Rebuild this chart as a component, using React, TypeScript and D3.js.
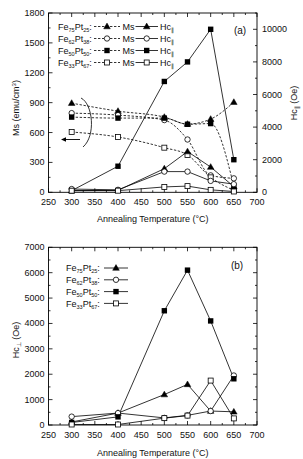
import React from 'react';
import * as d3 from 'd3';

const temperatures = [300, 400, 500, 550, 600, 650];
const xTickValues = [250, 300, 350, 400, 450, 500, 550, 600, 650, 700];
const msTicks = [0, 300, 600, 900, 1200, 1500, 1800];
const hcParTicks = [0, 2000, 4000, 6000, 8000, 10000];
const hcPerpTicks = [0, 1000, 2000, 3000, 4000, 5000, 6000, 7000];

const compositions = [
  ['75', '25'],
  ['62', '38'],
  ['50', '50'],
  ['33', '67'],
];
const markerTypes = ['tri', 'circle', 'square', 'osquare'];

// Ms (emu/cm3), dashed
const msFe75 = [895, 815, 755, 685, 735, 905];
const msFe62 = [795, 775, 725, 530, 170, 140];
const msFe50 = [755, 745, 745, 683, 690, 60];
const msFe33 = [605, 555, 448, 375, 150, 20];

// Hc parallel (Oe), solid
const hcParFe75 = [100, 120, 1450, 2500, 1550, 350];
const hcParFe62 = [200, 150, 1270, 1270, 700, 500];
const hcParFe50 = [100, 1600, 6800, 8000, 10000, 2000];
const hcParFe33 = [100, 100, 330, 380, 150, 50];

// Hc perpendicular (Oe), solid
const hcPerpFe75 = [120, 470, 1200, 1600, 550, 520];
const hcPerpFe62 = [330, 470, 280, 380, 550, 1950];
const hcPerpFe50 = [100, 320, 4500, 6100, 4100, 1820];
const hcPerpFe33 = [20, 20, 270, 370, 1750, 260];

const msSeries = [msFe75, msFe62, msFe50, msFe33];
const hcParSeries = [hcParFe75, hcParFe62, hcParFe50, hcParFe33];
const hcPerpSeries = [hcPerpFe75, hcPerpFe62, hcPerpFe50, hcPerpFe33];

const FONT = "'Liberation Sans', Arial, Helvetica, sans-serif";

function Marker({ type, x, y }: { type: string; x: number; y: number }) {
  const sw = 0.8;
  if (type === 'tri') {
    return (
      <polygon
        points={`${x},${y - 3.4} ${x - 3.3},${y + 2.3} ${x + 3.3},${y + 2.3}`}
        fill="#000"
        stroke="#000"
        strokeWidth={0.5}
      />
    );
  }
  if (type === 'circle') {
    return <circle cx={x} cy={y} r={2.7} fill="#fff" stroke="#000" strokeWidth={sw} />;
  }
  if (type === 'square') {
    return <rect x={x - 2.7} y={y - 2.7} width={5.4} height={5.4} fill="#000" />;
  }
  return <rect x={x - 2.5} y={y - 2.5} width={5} height={5} fill="#fff" stroke="#000" strokeWidth={sw} />;
}

function FeLabel({ x, y, comp }: { x: number; y: number; comp: string[] }) {
  return (
    <text x={x} y={y} fontSize={9} fontFamily={FONT} fill="#111">
      Fe
      <tspan dy={2} fontSize={5.5}>{comp[0]}</tspan>
      <tspan dy={-2}>Pt</tspan>
      <tspan dy={2} fontSize={5.5}>{comp[1]}</tspan>
      <tspan dy={-2}>:</tspan>
    </text>
  );
}

const x = d3.scaleLinear().domain([250, 700]).range([48.5, 257]);
const yMs = d3.scaleLinear().domain([0, 1800]).range([192.3, 13]);
const yHcPar = d3.scaleLinear().domain([0, 11000]).range([192.3, 13]);
const yHcPerp = d3.scaleLinear().domain([0, 7000]).range([425, 247.3]);

function XAxis({ yBottom, yTop }: { yBottom: number; yTop: number }) {
  const minor = d3.range(250, 701, 25);
  return (
    <g>
      {minor.map((v) => {
        const major = v % 50 === 0;
        const len = major ? 4 : 2;
        return (
          <g key={v}>
            <line x1={x(v)} x2={x(v)} y1={yBottom} y2={yBottom - len} stroke="#000" strokeWidth={0.8} />
            <line x1={x(v)} x2={x(v)} y1={yTop} y2={yTop + len} stroke="#000" strokeWidth={0.8} />
          </g>
        );
      })}
      {xTickValues.map((v) => (
        <text key={v} x={x(v)} y={yBottom + 12.5} fontSize={9} fontFamily={FONT} textAnchor="middle" fill="#111">
          {v}
        </text>
      ))}
    </g>
  );
}

function YTicks({ scale, majors, step, side, labels }: any) {
  const [d0, d1] = scale.domain();
  const minor = d3.range(d0, d1 + 0.001, step / 2);
  const x0 = side === 'left' ? x.range()[0] : x.range()[1];
  const dir = side === 'left' ? 1 : -1;
  return (
    <g>
      {minor.map((v: number) => {
        const major = Math.abs(v / step - Math.round(v / step)) < 1e-6;
        const len = major ? 4 : 2;
        return (
          <line key={v} x1={x0} x2={x0 + dir * len} y1={scale(v)} y2={scale(v)} stroke="#000" strokeWidth={0.8} />
        );
      })}
      {labels &&
        majors.map((v: number) => (
          <text
            key={v}
            x={side === 'left' ? x0 - 4 : x0 + 5}
            y={scale(v) + 3}
            fontSize={9}
            fontFamily={FONT}
            textAnchor={side === 'left' ? 'end' : 'start'}
            fill="#111"
          >
            {v}
          </text>
        ))}
    </g>
  );
}

export default function App() {
  const lineSolid = (ys: number[], scale: any) =>
    d3.line<number>().x((_, i) => x(temperatures[i])).y((v) => scale(v))(ys) as string;
  const lineDashed = (ys: number[], scale: any) =>
    d3
      .line<number>()
      .x((_, i) => x(temperatures[i]))
      .y((v) => scale(v))
      .curve(d3.curveMonotoneX)(ys) as string;

  const [xl, xr] = x.range();

  return (
    <svg
      width={303}
      height={459}
      viewBox="0 0 303 459"
      style={{ position: 'absolute', left: 0, top: 0, background: '#fff' }}
    >
      <rect x={0} y={0} width={303} height={459} fill="#fff" />

      {/* ===== Panel (a) ===== */}
      <rect x={xl} y={13} width={xr - xl} height={192.3 - 13} fill="none" stroke="#000" strokeWidth={0.9} />
      <XAxis yBottom={192.3} yTop={13} />
      <YTicks scale={yMs} majors={msTicks} step={300} side="left" labels />
      <YTicks scale={yHcPar} majors={hcParTicks} step={2000} side="right" labels />

      {msSeries.map((s, i) => (
        <path key={'ms' + i} d={lineDashed(s, yMs)} fill="none" stroke="#000" strokeWidth={0.8} strokeDasharray="2.4,1.6" />
      ))}
      {hcParSeries.map((s, i) => (
        <path key={'hp' + i} d={lineSolid(s, yHcPar)} fill="none" stroke="#000" strokeWidth={0.8} />
      ))}
      {msSeries.map((s, i) =>
        s.map((v, j) => <Marker key={`msm${i}-${j}`} type={markerTypes[i]} x={x(temperatures[j])} y={yMs(v)} />)
      )}
      {hcParSeries.map((s, i) =>
        s.map((v, j) => <Marker key={`hpm${i}-${j}`} type={markerTypes[i]} x={x(temperatures[j])} y={yHcPar(v)} />)
      )}

      {/* bracket and arrow */}
      <path d="M 81 98 C 93 104, 96 136, 83 147" fill="none" stroke="#000" strokeWidth={0.8} />
      <line x1={80} y1={139.5} x2={64} y2={139.5} stroke="#000" strokeWidth={0.9} />
      <polygon points="61,139.5 66,137.3 66,141.7" fill="#000" />

      {/* legend (a) */}
      {compositions.map((c, i) => {
        const cy = 26.5 + i * 12;
        return (
          <g key={'la' + i}>
            <FeLabel x={58} y={cy + 3.2} comp={c} />
            <line x1={94} x2={120} y1={cy} y2={cy} stroke="#000" strokeWidth={0.8} strokeDasharray="2.4,1.6" />
            <Marker type={markerTypes[i]} x={107} y={cy} />
            <text x={122.5} y={cy + 3.2} fontSize={9} fontFamily={FONT} fill="#111">
              Ms
            </text>
            <line x1={135.5} x2={158} y1={cy} y2={cy} stroke="#000" strokeWidth={0.8} />
            <Marker type={markerTypes[i]} x={146.7} y={cy} />
            <text x={160} y={cy + 3.2} fontSize={9} fontFamily={FONT} fill="#111">
              Hc<tspan dy={2} fontSize={5.5}>∥</tspan>
            </text>
          </g>
        );
      })}
      <text x={240} y={33.5} fontSize={10} fontFamily={FONT} textAnchor="middle" fill="#111">
        (a)
      </text>

      <text transform="translate(18.5,108) rotate(-90)" fontSize={9} fontFamily={FONT} textAnchor="middle" fill="#111">
        Ms (emu/cm<tspan dy={-3} fontSize={6}>3</tspan>
        <tspan dy={3}>)</tspan>
      </text>
      <text transform="translate(297,103) rotate(-90)" fontSize={9} fontFamily={FONT} textAnchor="middle" fill="#111">
        Hc<tspan dy={2} fontSize={6}>∥</tspan>
        <tspan dy={-2}> (Oe)</tspan>
      </text>
      <text x={(xl + xr) / 2} y={221.5} fontSize={9} fontFamily={FONT} textAnchor="middle" fill="#111">
        Annealing Temperature (°C)
      </text>

      {/* ===== Panel (b) ===== */}
      <rect x={xl} y={247.3} width={xr - xl} height={425 - 247.3} fill="none" stroke="#000" strokeWidth={0.9} />
      <XAxis yBottom={425} yTop={247.3} />
      <YTicks scale={yHcPerp} majors={hcPerpTicks} step={1000} side="left" labels />
      <YTicks scale={yHcPerp} majors={hcPerpTicks} step={1000} side="right" labels={false} />

      {hcPerpSeries.map((s, i) => (
        <path key={'hq' + i} d={lineSolid(s, yHcPerp)} fill="none" stroke="#000" strokeWidth={0.8} />
      ))}
      {hcPerpSeries.map((s, i) =>
        s.map((v, j) => <Marker key={`hqm${i}-${j}`} type={markerTypes[i]} x={x(temperatures[j])} y={yHcPerp(v)} />)
      )}

      {compositions.map((c, i) => {
        const cy = 268 + i * 11.8;
        return (
          <g key={'lb' + i}>
            <FeLabel x={66} y={cy + 3.2} comp={c} />
            <line x1={104} x2={128} y1={cy} y2={cy} stroke="#000" strokeWidth={0.8} />
            <Marker type={markerTypes[i]} x={116} y={cy} />
          </g>
        );
      })}
      <text x={237} y={268.5} fontSize={10} fontFamily={FONT} textAnchor="middle" fill="#111">
        (b)
      </text>

      <text transform="translate(19,340) rotate(-90)" fontSize={9} fontFamily={FONT} textAnchor="middle" fill="#111">
        Hc<tspan dy={2} fontSize={6}>⊥</tspan>
        <tspan dy={-2}> (Oe)</tspan>
      </text>
      <text x={(xl + xr) / 2} y={455.5} fontSize={9} fontFamily={FONT} textAnchor="middle" fill="#111">
        Annealing Temperature (°C)
      </text>
    </svg>
  );
}
